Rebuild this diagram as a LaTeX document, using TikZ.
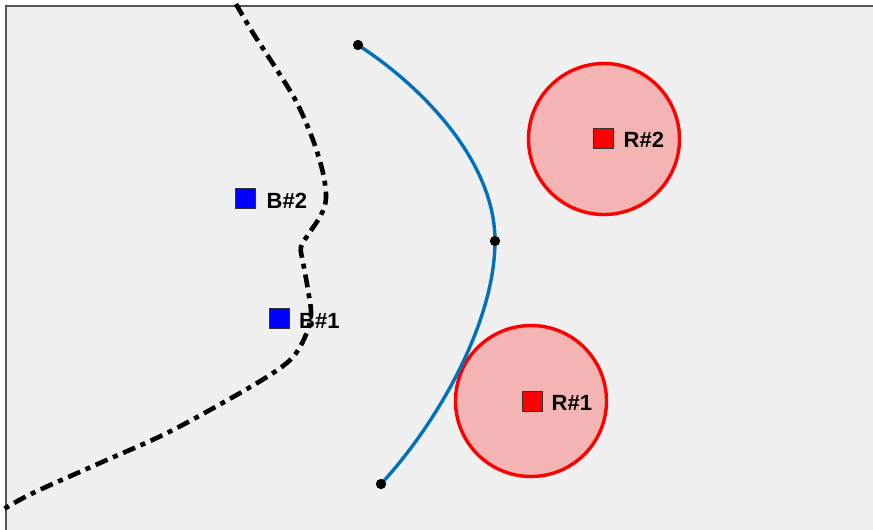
\documentclass[tikz,border=0pt]{standalone}
\usepackage{fontspec}
\setmainfont{Liberation Sans}
\definecolor{bgc}{HTML}{F0F0F0}
\definecolor{framec}{HTML}{555555}
\definecolor{pathblue}{RGB}{0,114,189}
\definecolor{zonefill}{RGB}{244,180,180}
\begin{document}
\begin{tikzpicture}[x=1pt,y=-1pt,
  site/.style={draw=black!80,line width=1pt,minimum size=20pt,inner sep=0pt},
  lbl/.style={font=\bfseries\fontsize{22}{22}\selectfont,anchor=base west,inner sep=0pt},
  zone/.style={circle,draw=red,line width=3.4pt,fill=zonefill,minimum size=151pt,inner sep=0pt},
  dotc/.style={circle,fill=black,inner sep=0pt,minimum size=10pt},
  boundary/.style={line width=4.6pt,dash pattern=on 13pt off 6pt on 5pt off 6pt},
  route/.style={pathblue,line width=3.4pt}]
\useasboundingbox (0,0) rectangle (873,530);
\clip (0,0) rectangle (873,530);
\fill[white] (0,0) rectangle (873,530);
\fill[bgc] (6,6) rectangle (880,540);
\draw[framec,line width=1.8pt] (6,540) -- (6,6) -- (880,6);
% boundary curve
\draw[boundary] plot[smooth,tension=0.55] coordinates {
 (236,4) (253,33) (277,70) (297,103) (313,140) (323,173) (326,198) (321,215)
 (310,232) (301,247) (303,262) (308,290) (311,315) (305,337) (293,357)
 (273,373) (233,397) (167,433) (100,463) (33,493) (4,509)};
% zones
\node[zone] (z2) at (604,139) {};
\node[zone] (z1) at (531,401) {};
% route
\node[dotc] (d1) at (358,45) {};
\node[dotc] (d2) at (495,241) {};
\node[dotc] (d3) at (381,484) {};
\draw[route] (d1.center) .. controls (420,85) and (495,160) .. (d2.center)
  .. controls (495,320) and (440,420) .. (d3.center);
\node[dotc] at (d1) {};
\node[dotc] at (d2) {};
\node[dotc] at (d3) {};
% sites
\node[site,fill=blue] (b2) at (245,198) {};
\node[lbl] (lb2) at ([xshift=11pt]b2.south east) {B\#2};
\node[site,fill=blue] (b1) at (279.5,318) {};
\node[lbl] (lb1) at ([xshift=9pt]b1.south east) {B\#1};
\node[site,fill=red] (r1) at (532,401) {};
\node[lbl] (lr1) at ([xshift=9pt,yshift=1pt]r1.south east) {R\#1};
\node[site,fill=red] (r2) at (603,138) {};
\node[lbl] (lr2) at ([xshift=10pt,yshift=1pt]r2.south east) {R\#2};
\end{tikzpicture}
\end{document}
